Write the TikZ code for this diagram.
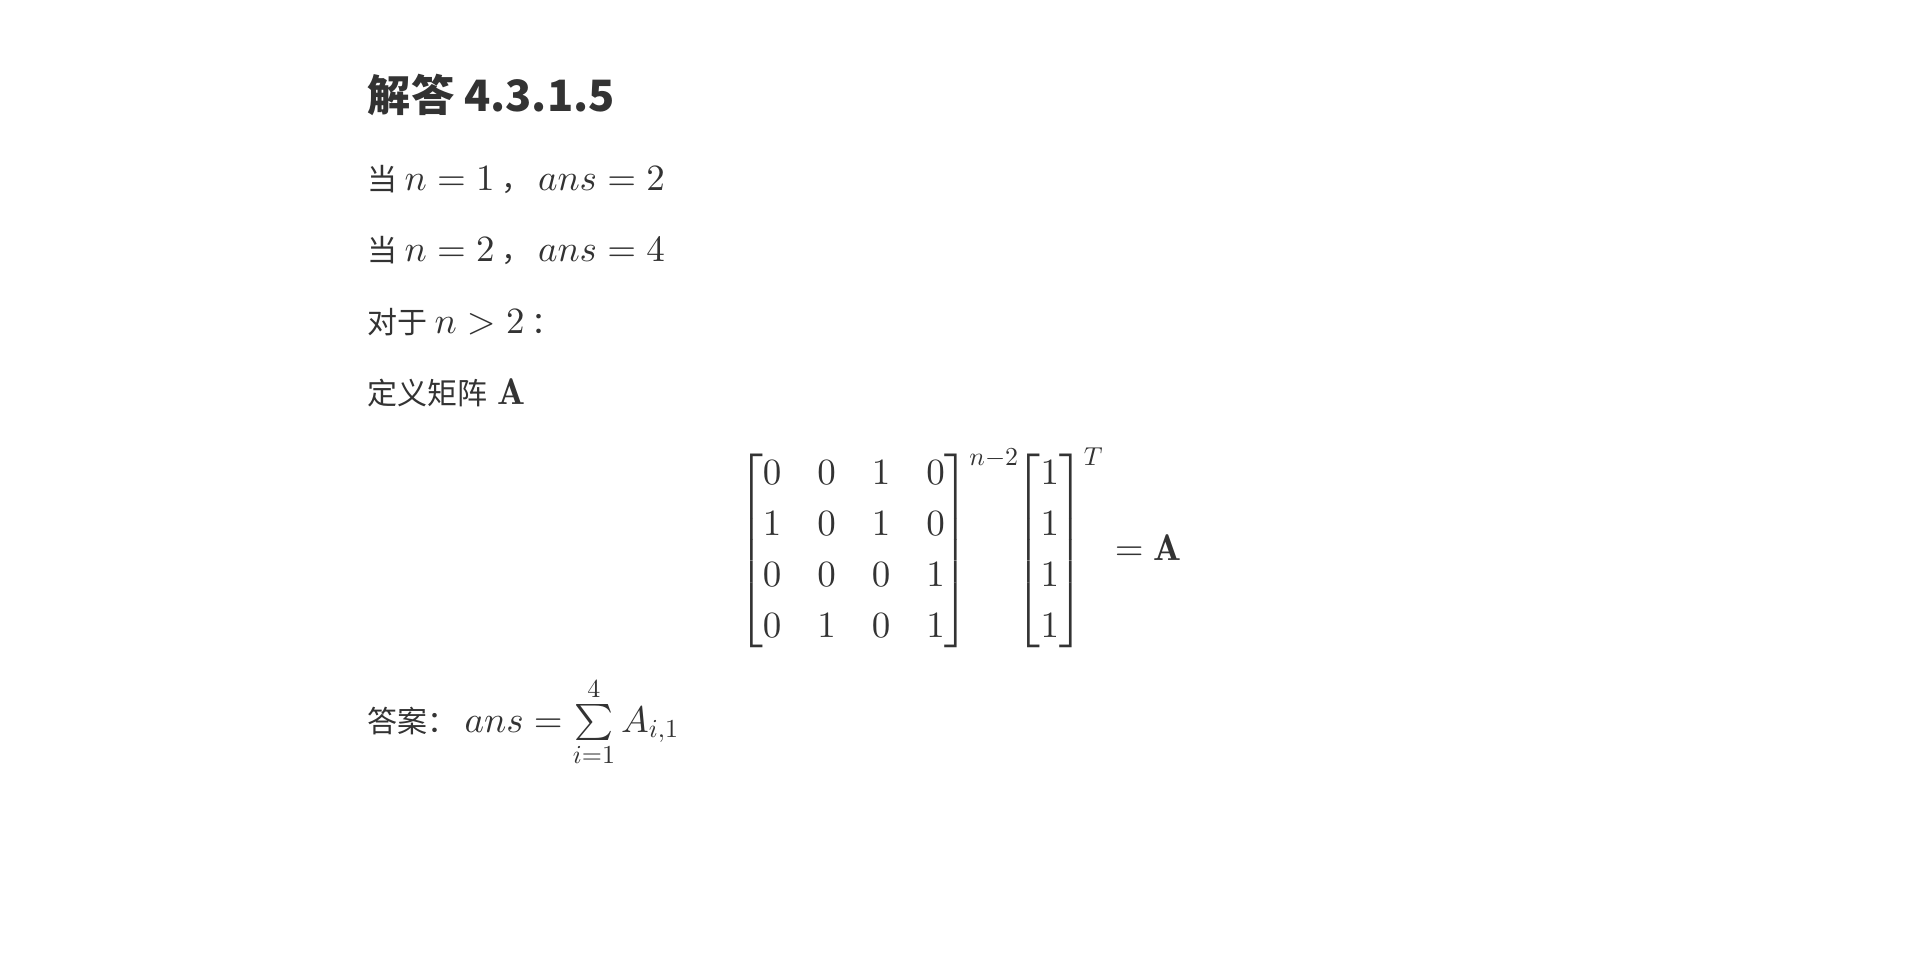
\RequirePackage{fix-cm}
\documentclass[tikz,border=0pt]{standalone}
\usepackage{amsmath}
\usepackage{fontspec}
\newfontfamily\cjk{Noto Sans CJK SC}
% one design size for every math size
\DeclareFontShape{OT1}{cmr}{m}{n}{<->cmr10}{}
\DeclareFontShape{OT1}{cmr}{bx}{n}{<->cmbx10}{}
\DeclareFontShape{OML}{cmm}{m}{it}{<->cmmi10}{}
\DeclareFontShape{OMS}{cmsy}{m}{n}{<->cmsy10}{}
\definecolor{inkgray}{HTML}{333333}
\newcommand{\mth}[1]{{\fontsize{9.25}{11}\selectfont$#1$}}
\newcommand{\lowsup}[1]{\lower1.8pt\hbox{$\scriptstyle #1$}}

\begin{document}
\begin{tikzpicture}[x=0.25pt, y=-0.25pt,
        txt/.style={anchor=base west, inner sep=0pt, text=inkgray, font=\cjk\fontsize{7.5}{9}\selectfont},
        eqn/.style={anchor=base, inner sep=0pt, text=inkgray, font=\fontsize{9.25}{12.75}\selectfont}]
        \useasboundingbox [fill=white] (0,0) rectangle (1920,964);

        \node [txt, font=\cjk\bfseries\fontsize{10.8}{13}\selectfont] (title) at (367,111) {解答 4.3.1.5};

        \node [txt] (caseone) at (367,190) {当 \mth{n=1} ， \mth{ans=2}};
        \node [txt] (casetwo) at (367,261) {当 \mth{n=2} ， \mth{ans=4}};
        \node [txt] (casemore) at (367,333) {对于 \mth{n>2} ：};
        \node [txt] (define) at (367,404) {定义矩阵 \kern0.8pt\mth{\mathbf{A}}};

        \node [eqn] (matA) at (960,560) {\arraycolsep=4.5pt $\displaystyle
            \begin{bmatrix} 0&0&1&0\\ 1&0&1&0\\ 0&0&0&1\\ 0&1&0&1 \end{bmatrix}^{\lowsup{n-2}}\mskip-5mu
            \begin{bmatrix} 1\\ 1\\ 1\\ 1 \end{bmatrix}^{\lowsup{T}} = \mathbf{A}$};

        \node [txt] (answer) at (367,732) {答案： \mth{ans=\sum\limits_{i=1}^{4} A_{i,1}}};
    \end{tikzpicture}
\end{document}
